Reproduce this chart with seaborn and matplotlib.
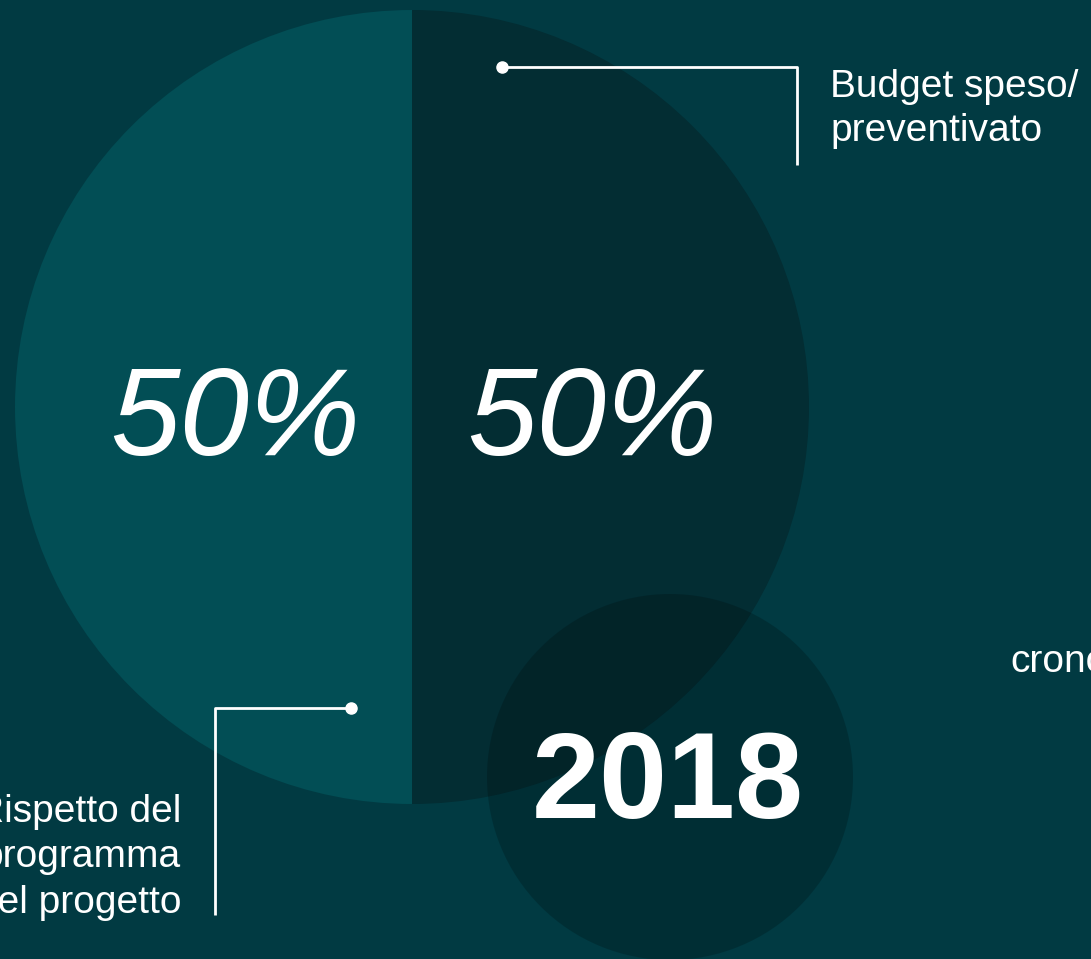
import matplotlib
matplotlib.use("Agg")
import matplotlib.pyplot as plt
import seaborn as sns
from matplotlib.patches import Circle

# ---- data ----
categories = ["Rispetto del\nprogramma\ndel progetto", "Budget speso/\npreventivato"]
values = [50, 50]
value_labels = ["50%", "50%"]
year_label = "2018"
side_label = "cronoprogramma"

BG = "#013a42"
wedge_colors = ["#024e55", "#032d33"]

sns.set_theme(style="white")
plt.rcParams["font.family"] = ["Liberation Sans", "DejaVu Sans"]

W, H = 1091, 959
fig = plt.figure(figsize=(W / 100, H / 100), dpi=100, facecolor=BG)
ax = fig.add_axes([0, 0, 1, 1])
ax.set_facecolor(BG)

def Y(py):
    return H - py

# main pie: first wedge on the left (counterclockwise from top)
cx, cy, R = 412, Y(407), 397
ax.pie(values, colors=wedge_colors, startangle=90, counterclock=True,
       center=(cx, cy), radius=R, frame=True,
       wedgeprops=dict(linewidth=0))
ax.set_xlim(0, W)
ax.set_ylim(0, H)
ax.set_aspect("equal")
ax.axis("off")

# overlay circle
ax.add_patch(Circle((670, Y(777)), 183, facecolor="black", alpha=0.2,
                    linewidth=0, zorder=5))

# percentage labels
ax.text(235, Y(455), value_labels[0], color="white", fontsize=90,
        fontstyle="italic", ha="center", va="baseline", zorder=6)
ax.text(592, Y(455), value_labels[1], color="white", fontsize=90,
        fontstyle="italic", ha="center", va="baseline", zorder=6)

# year
ax.text(668, Y(818), year_label, color="white", fontsize=88,
        fontweight="bold", ha="center", va="baseline", zorder=6)

# callout lines
lw = 2
ax.plot([502, 797, 797], [Y(67), Y(67), Y(165)], color="white", lw=lw, zorder=6,
        solid_capstyle="butt")
ax.plot([502], [Y(67)], "o", color="white", ms=8, zorder=7)
ax.plot([351, 215, 215], [Y(708), Y(708), Y(915)], color="white", lw=lw, zorder=6,
        solid_capstyle="butt")
ax.plot([351], [Y(708)], "o", color="white", ms=8, zorder=7)

# category labels (multi-line: baseline refers to last line)
ax.text(830, Y(141), categories[1], color="white", fontsize=28,
        ha="left", va="baseline", linespacing=1.28, zorder=6)
ax.text(181, Y(913), categories[0], color="white", fontsize=28,
        ha="right", va="baseline", linespacing=1.34, zorder=6)
ax.text(1010, Y(672), side_label, color="white", fontsize=28,
        ha="left", va="baseline", zorder=6)

fig.savefig("out.png", dpi=100, facecolor=BG)
